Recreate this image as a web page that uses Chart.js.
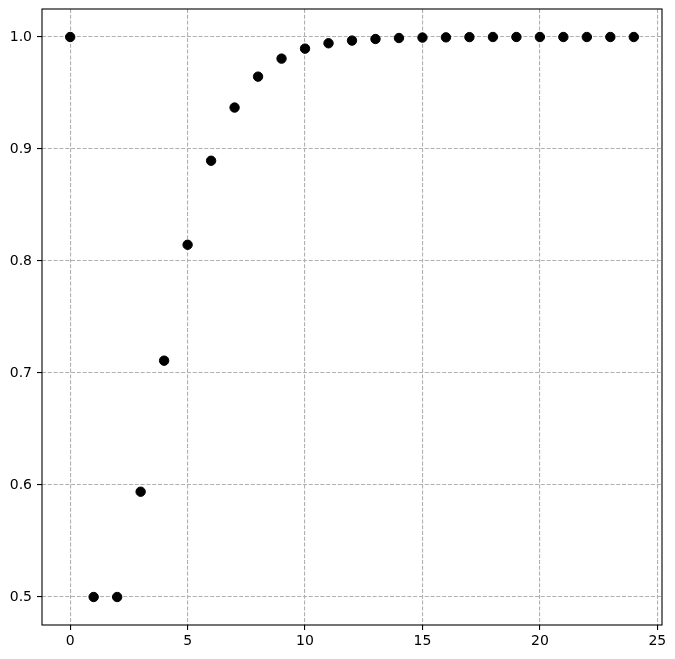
<!DOCTYPE html>
<html>
<head>
<meta charset="utf-8">
<script src="https://cdn.jsdelivr.net/npm/chart.js@4"></script>
<style>
  html, body { margin: 0; padding: 0; background: #fff; }
  #box { width: 675px; height: 659px; }
</style>
</head>
<body>
<div id="box"><canvas id="grafico"></canvas></div>
<script>
// valores
const passos = [0, 1, 2, 3, 4, 5, 6, 7, 8, 9, 10, 11, 12, 13, 14, 15, 16, 17, 18, 19, 20, 21, 22, 23, 24];
const valores = [1.0, 0.5, 0.5, 0.594, 0.711, 0.8145, 0.8895, 0.937, 0.9646, 0.9807, 0.9896, 0.9944, 0.9968,
    0.9982, 0.9991, 0.9995, 0.9997, 0.9999, 1.0, 1.0, 1.0, 1.0, 1.0, 1.0, 1.0];
const ticksX = [0, 5, 10, 15, 20, 25];
const ticksY = [0.5, 0.6, 0.7, 0.8, 0.9, 1.0];

const pontos = passos.map((p, i) => ({ x: p, y: valores[i] }));

// moldura em volta da área do gráfico (estilo matplotlib)
const moldura = {
    id: 'moldura',
    afterDraw(chart) {
        const { ctx, chartArea } = chart;
        ctx.save();
        ctx.strokeStyle = '#000';
        ctx.lineWidth = 1.1;
        ctx.setLineDash([]);
        ctx.strokeRect(chartArea.left, chartArea.top, chartArea.right - chartArea.left, chartArea.bottom - chartArea.top);
        ctx.restore();
    }
};

const gradeComum = {
    color: '#b0b0b0',
    lineWidth: 1.1,
    tickColor: '#000',
    tickLength: 5,
    tickWidth: 1.1,
    tickBorderDash: []
};

// tira o espaço extra que o Chart.js reserva para meia altura/largura dos rótulos
function zeraPadding(s) {
    s.paddingTop = 0;
    s.paddingBottom = 0;
    s.paddingLeft = 0;
    s.paddingRight = 0;
}

new Chart(document.getElementById('grafico'), {
    type: 'scatter',
    data: {
        datasets: [{
            data: pontos,
            backgroundColor: '#000',
            borderColor: '#000',
            pointRadius: 4.7,
            pointHoverRadius: 4.7
        }]
    },
    options: {
        responsive: true,
        maintainAspectRatio: false,
        animation: false,
        layout: { padding: { left: 0, top: 9, right: 13, bottom: 0 } },
        plugins: { legend: { display: false }, tooltip: { enabled: false } },
        scales: {
            x: {
                type: 'linear',
                min: -1.2,
                max: 25.2,
                afterBuildTicks: (s) => { s.ticks = ticksX.map(v => ({ value: v })); },
                afterFit: (s) => { s.height = 34; zeraPadding(s); },
                grid: gradeComum,
                border: { display: false, dash: [4, 1.8] },
                ticks: {
                    color: '#000',
                    padding: 3,
                    maxRotation: 0,
                    font: { family: 'DejaVu Sans', size: 14 },
                    callback: (v) => v.toString()
                }
            },
            y: {
                type: 'linear',
                min: 0.475,
                max: 1.025,
                afterBuildTicks: (s) => { s.ticks = ticksY.map(v => ({ value: v })); },
                afterFit: (s) => { s.width = 42; zeraPadding(s); },
                grid: gradeComum,
                border: { display: false, dash: [4, 1.8] },
                ticks: {
                    color: '#000',
                    padding: 5,
                    font: { family: 'DejaVu Sans', size: 14 },
                    callback: (v) => v.toFixed(1)
                }
            }
        }
    },
    plugins: [moldura]
});
</script>
</body>
</html>
